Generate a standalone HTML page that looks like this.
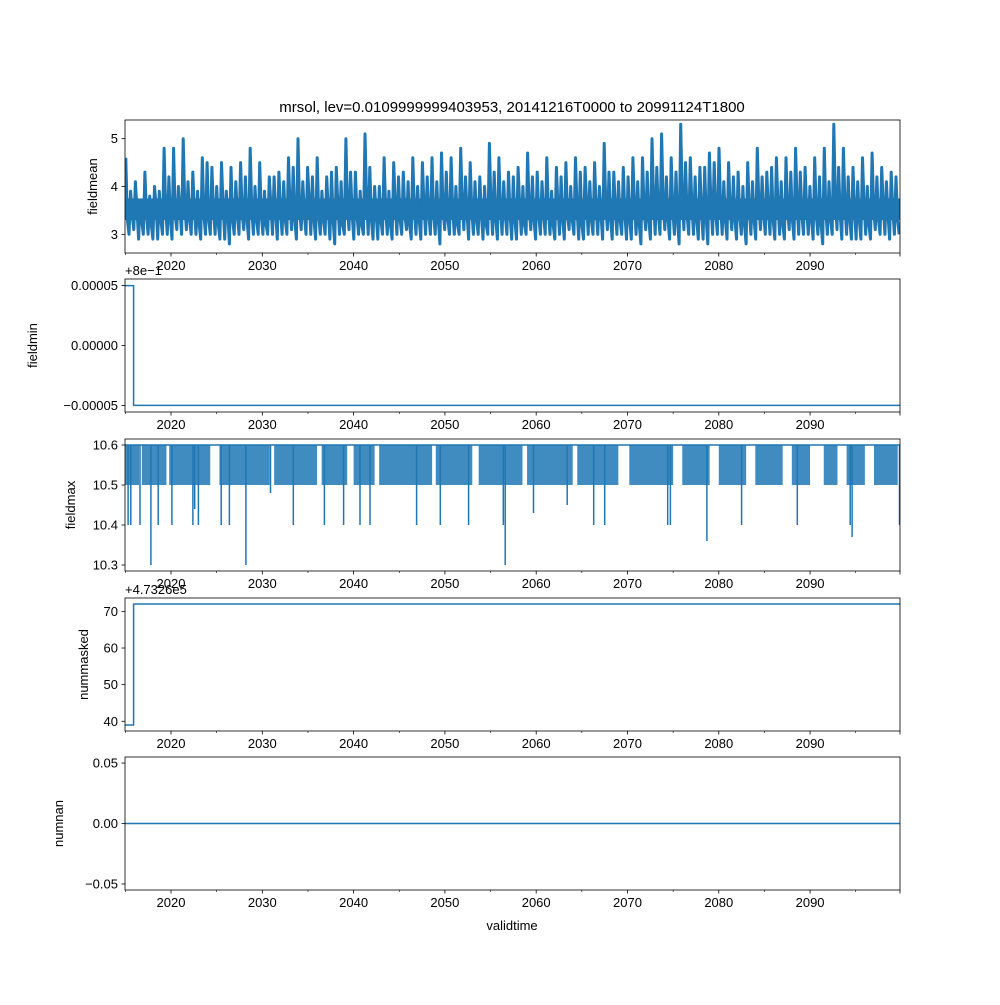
<!DOCTYPE html>
<html><head><meta charset="utf-8"><style>
body{margin:0;background:#fff;}
svg text{font-family:"Liberation Sans","DejaVu Sans",sans-serif;font-size:13px;fill:#000;}
</style></head><body>
<svg id="fig" width="1000" height="1000" viewBox="0 0 1000 1000" xmlns="http://www.w3.org/2000/svg">
<rect width="1000" height="1000" fill="#fff"/>
<text x="512" y="112" text-anchor="middle" style="font-size:15px">mrsol, lev=0.0109999999403953, 20141216T0000 to 20991124T1800</text>
<text x="512" y="930" text-anchor="middle">validtime</text>
</svg>
<script>
// ---- data ----
const yearStart = 2014.96, yearEnd = 2099.85;
const majorYears = [2020,2030,2040,2050,2060,2070,2080,2090];
const minorYears = [2015,2025,2035,2045,2055,2065,2075,2085,2095];
const meanValues = [
4.6,3.3,3.0,3.9,3.4,3.1, 4.1,3.5,2.9,3.7,3.3,3.0, 4.3,3.4,3.0,3.8,3.2,2.9, 4.0,3.6,2.9,3.9,3.3,3.0,
4.8,3.5,3.0,4.2,3.3,2.9, 4.8,3.4,3.1,4.0,3.5,3.0, 5.0,3.6,3.1,4.1,3.3,3.0, 4.3,3.5,3.0,3.9,3.2,2.9,
4.6,3.4,3.0,4.5,3.3,3.0, 4.4,3.5,3.0,4.0,3.2,2.9, 4.5,3.6,2.9,3.9,3.4,2.8, 4.4,3.3,3.0,4.1,3.4,3.0,
4.5,3.4,3.1,4.2,3.3,2.9, 4.8,3.5,3.0,4.0,3.3,3.0, 4.5,3.4,3.0,3.9,3.2,3.0, 4.2,3.6,3.0,4.2,3.4,2.9,
4.3,3.5,3.0,4.1,3.3,3.0, 4.6,3.6,3.1,4.4,3.3,2.9, 5.0,3.5,3.1,4.1,3.4,3.0, 4.4,3.7,3.0,4.2,3.3,2.9,
4.6,3.4,3.0,3.9,3.3,3.0, 4.2,3.5,2.9,4.3,3.3,2.8, 4.4,3.6,3.0,4.1,3.2,3.0, 5.0,3.5,3.1,4.3,3.4,2.9,
4.3,3.4,3.0,3.9,3.2,3.0, 5.1,3.7,3.0,4.4,3.3,2.9, 4.0,3.4,2.9,4.0,3.3,3.0, 4.6,3.5,3.0,3.9,3.2,2.9,
4.5,3.6,3.0,4.2,3.3,3.0, 4.3,3.4,3.1,4.1,3.2,2.9, 4.6,3.5,3.0,4.0,3.3,2.9, 4.5,3.6,3.0,4.2,3.4,3.0,
4.6,3.4,3.0,4.1,3.3,2.8, 4.7,3.5,3.1,4.3,3.3,3.0, 4.6,3.5,3.0,4.0,3.2,3.0, 4.8,3.6,3.1,4.2,3.4,2.9,
4.5,3.5,3.0,4.1,3.3,3.0, 4.2,3.4,2.9,4.0,3.2,3.0, 4.9,3.6,3.0,4.3,3.3,2.9, 4.6,3.5,3.0,4.1,3.4,3.0,
4.3,3.4,2.9,4.2,3.3,2.9, 4.4,3.6,3.0,4.0,3.2,3.0, 4.7,3.5,3.1,4.2,3.3,2.9, 4.3,3.4,3.0,4.1,3.4,3.0,
4.6,3.5,3.0,3.9,3.2,2.9, 4.4,3.6,3.0,4.2,3.3,2.9, 4.5,3.4,3.1,4.0,3.3,3.0, 4.6,3.5,2.9,4.3,3.2,2.9,
4.4,3.6,3.0,4.1,3.3,3.0, 4.5,3.5,3.0,4.0,3.4,2.9, 4.9,3.6,3.1,4.3,3.3,2.9, 4.3,3.5,3.0,4.1,3.3,3.0,
4.4,3.4,2.9,4.2,3.3,2.9, 4.6,3.6,3.0,4.1,3.2,2.8, 4.6,3.5,3.1,4.3,3.3,2.9, 5.0,3.7,3.0,4.4,3.4,3.0,
5.1,3.6,3.1,4.2,3.3,2.9, 4.6,3.5,3.0,4.3,3.3,2.8, 5.3,3.7,3.1,4.5,3.4,3.0, 4.6,3.6,3.0,4.2,3.3,2.9,
4.4,3.5,2.9,4.4,3.3,2.8, 4.7,3.6,3.0,4.5,3.4,3.0, 4.8,3.6,3.0,4.1,3.3,2.9, 4.5,3.5,3.1,4.2,3.3,2.9,
4.3,3.4,3.0,4.0,3.2,2.8, 4.5,3.5,3.0,4.1,3.3,2.9, 4.8,3.6,3.1,4.2,3.4,3.0, 4.3,3.5,3.0,4.4,3.3,2.9,
4.6,3.6,3.0,4.1,3.2,2.9, 4.6,3.5,3.1,4.3,3.3,2.9, 4.8,3.6,3.0,4.3,3.4,3.0, 4.4,3.5,3.0,4.0,3.3,2.9,
4.6,3.4,3.0,4.2,3.2,2.8, 4.8,3.5,3.0,4.1,3.3,3.0, 5.3,3.7,3.1,4.4,3.4,2.9, 4.8,3.6,3.0,4.2,3.3,2.9,
4.4,3.5,2.9,4.1,3.3,2.9, 4.6,3.6,3.0,4.0,3.2,2.9, 4.7,3.5,3.1,4.2,3.3,3.0, 4.4,3.6,3.0,4.1,3.4,2.9,
4.3,3.5,3.0,4.2,3.3,3.0
];
const meanCoreLow = 3.3, meanCoreHigh = 3.75;
const fminLevels = [0.00005, -0.00005];
const fminSwitch = 2015.9;
const fmaxDipYears = [2015.3,2015.6,2016.6,2017.8,2018.6,2020.1,2022.4,2022.6,2023.0,2025.5,2026.4,2028.2,2030.9,2033.4,2036.8,2038.9,2040.7,2041.8,2046.9,2049.5,2052.6,2056.4,2056.6,2059.7,2063.4,2066.3,2067.5,2074.4,2074.7,2078.7,2082.5,2088.6,2094.4,2094.6,2099.8];
const fmaxDipVals  = [10.4,10.4,10.4,10.3,10.4,10.4,10.4,10.44,10.4,10.4,10.4,10.3,10.48,10.4,10.4,10.4,10.4,10.4,10.4,10.4,10.4,10.4,10.3,10.43,10.45,10.4,10.4,10.4,10.4,10.36,10.4,10.4,10.4,10.37,10.4];
const fmaxBandStart = [2015.0,2016.8,2019.8,2025.3,2031.3,2036.5,2040.0,2042.8,2049.0,2053.7,2059.0,2064.5,2070.2,2076.0,2080.0,2084.0,2088.0,2091.5,2094.0,2097.0];
const fmaxBandEnd   = [2016.5,2019.5,2024.3,2030.8,2036.0,2039.3,2042.3,2048.6,2053.0,2058.5,2064.0,2069.0,2075.0,2079.0,2083.0,2087.0,2090.0,2093.0,2096.0,2099.6];
const nmLevels = [39, 72];
const nmSwitch = 2015.9;
const nanLevel = 0;

const panels = [
 {name:'fieldmean', top:120, bot:253, ymin:2.61, ymax:5.39, ticks:[3,4,5], labels:['3','4','5']},
 {name:'fieldmin', top:279, bot:412, ymin:-0.0000555, ymax:0.0000555, ticks:[-0.00005,0,0.00005], labels:['\u22120.00005','0.00000','0.00005']},
 {name:'fieldmax', top:439, bot:571, ymin:10.285, ymax:10.615, ticks:[10.3,10.4,10.5,10.6], labels:['10.3','10.4','10.5','10.6']},
 {name:'nummasked', top:598, bot:731, ymin:37.35, ymax:73.65, ticks:[40,50,60,70], labels:['40','50','60','70']},
 {name:'numnan', top:757, bot:890, ymin:-0.055, ymax:0.055, ticks:[-0.05,0,0.05], labels:['\u22120.05','0.00','0.05']}
];
const labelX=[97,37,75,88,63];
const L=125,R=900,C='#1f77b4';
const svg=document.getElementById('fig');
const NS='http://www.w3.org/2000/svg';
function X(y){return L+(y-yearStart)/(yearEnd-yearStart)*(R-L);}
function mk(t,a,parent){const e=document.createElementNS(NS,t);for(const k in a)e.setAttribute(k,a[k]);(parent||svg).appendChild(e);return e;}
panels.forEach((p,i)=>{
 const Y=v=>p.bot-(v-p.ymin)/(p.ymax-p.ymin)*(p.bot-p.top);
 const g=mk('g',{});
 
 
 const clipId='c'+i;
 const cp=mk('clipPath',{id:clipId},g);mk('rect',{x:L,y:p.top,width:R-L,height:p.bot-p.top},cp);
 const dg=mk('g',{'clip-path':'url(#'+clipId+')'},g);
 let d='';
 let sw=1.5;
 if(i===0){
  const band=mk('rect',{x:L,y:Y(meanCoreHigh),width:R-L,height:Y(meanCoreLow)-Y(meanCoreHigh),fill:C},dg);
  
  
  const n=meanValues.length;
  meanValues.forEach((v,k)=>{const yr=yearStart+(k+0.5)/n*(yearEnd-yearStart);d+=(k?'L':'M')+X(yr).toFixed(1)+','+Y(v).toFixed(1);});
  sw=3;
 } else if(i===1){
  d='M'+L+','+Y(fminLevels[0])+'H'+X(fminSwitch)+'V'+Y(fminLevels[1])+'H'+R;
 } else if(i===2){
  fmaxBandStart.forEach((s,k)=>{
   const r=mk('rect',{x:X(s),y:Y(10.6),width:X(fmaxBandEnd[k])-X(s),height:Y(10.5)-Y(10.6),fill:C,opacity:0.85},dg);
   
   
  });
  d='M'+L+','+Y(10.6)+'H'+R;
  fmaxDipYears.forEach((yr,k)=>{d+='M'+X(yr).toFixed(1)+','+Y(10.6)+'V'+Y(fmaxDipVals[k]).toFixed(1);});
 } else if(i===3){
  d='M'+L+','+Y(nmLevels[0])+'H'+X(nmSwitch)+'V'+Y(nmLevels[1])+'H'+R;
 } else {
  d='M'+L+','+Y(nanLevel)+'H'+R;
 }
 const ln=mk('path',{d:d,fill:'none',stroke:C,'stroke-width':sw,'stroke-linejoin':'round'},dg);
 
 
 const fr=mk('rect',{x:L,y:p.top,width:R-L,height:p.bot-p.top,fill:'none',stroke:'#000','stroke-width':0.8},g);
 
 
 p.ticks.forEach((t,k)=>{
  const yy=Y(t);
  mk('line',{x1:L-3.5,x2:L,y1:yy,y2:yy,stroke:'#000','stroke-width':0.8},g);
  const tx=mk('text',{x:L-7,y:yy+4.5,'text-anchor':'end'},g);tx.textContent=p.labels[k];
  
  
 });
 majorYears.forEach(yr=>{
  const xx=X(yr);
  mk('line',{x1:xx,x2:xx,y1:p.bot,y2:p.bot+3.5,stroke:'#000','stroke-width':0.8},g);
  const tx=mk('text',{x:xx,y:p.bot+17,'text-anchor':'middle'},g);tx.textContent=String(yr);
  
  
 });
 minorYears.forEach(yr=>{const xx=X(yr);mk('line',{x1:xx,x2:xx,y1:p.bot,y2:p.bot+2,stroke:'#000','stroke-width':0.6},g);});
 mk('line',{x1:R,x2:R,y1:p.bot,y2:p.bot+3.5,stroke:'#000','stroke-width':0.8},g);
 const yl=mk('text',{x:0,y:0,'text-anchor':'middle'},g);
 yl.setAttribute('transform','translate('+labelX[i]+','+((p.top+p.bot)/2)+') rotate(-90)');
 yl.textContent=p.name;
 
 
});
const o1=mk('text',{x:125,y:275});o1.textContent='+8e\u22121';


const o2=mk('text',{x:125,y:594});o2.textContent='+4.7326e5';


</script>
</body></html>
